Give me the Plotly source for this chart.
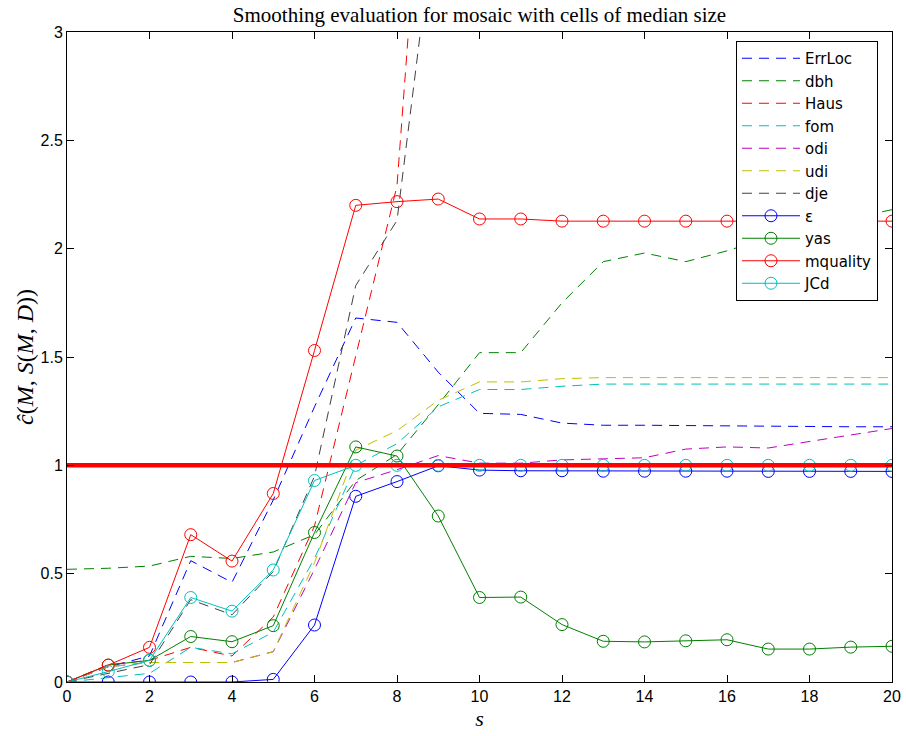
import plotly.graph_objects as go

s = list(range(21))

ErrLoc = [0, 0.07, 0.12, 0.56, 0.46, 0.84, 1.27, 1.68, 1.66, 1.43, 1.24, 1.235, 1.195, 1.185, 1.185, 1.183, 1.182, 1.18, 1.18, 1.178, 1.178]
dbh = [0.52, 0.525, 0.535, 0.58, 0.57, 0.60, 0.68, 0.93, 1.05, 1.28, 1.52, 1.52, 1.75, 1.94, 1.98, 1.94, 1.99, 2.05, 2.10, 2.14, 2.18]
Haus = [0, 0.08, 0.10, 0.16, 0.12, 0.30, 0.72, 1.50, 2.29, 4.85] + [None] * 11
fom = [0, 0.02, 0.04, 0.16, 0.13, 0.23, 0.57, 1.0, 1.10, 1.27, 1.35, 1.35, 1.365, 1.375, 1.375, 1.375, 1.375, 1.375, 1.375, 1.375, 1.375]
odi = [0, 0.07, 0.09, 0.09, 0.09, 0.14, 0.52, 0.92, 0.98, 1.045, 1.01, 1.01, 1.025, 1.03, 1.035, 1.075, 1.085, 1.08, 1.11, 1.14, 1.17]
udi = [0, 0.07, 0.09, 0.09, 0.09, 0.14, 0.55, 1.07, 1.16, 1.30, 1.385, 1.385, 1.40, 1.405, 1.405, 1.405, 1.405, 1.405, 1.405, 1.405, 1.405]
dje = [0, 0.04, 0.08, 0.38, 0.31, 0.51, 0.95, 1.83, 2.13, 3.66] + [None] * 11

eps = [0, 0, 0, 0, 0, 0.012, 0.263, 0.857, 0.925, 0.998, 0.978, 0.975, 0.975, 0.973, 0.973, 0.973, 0.973, 0.972, 0.972, 0.972, 0.972]
yas = [0, 0.078, 0.10, 0.21, 0.186, 0.26, 0.69, 1.085, 1.043, 0.766, 0.39, 0.392, 0.265, 0.188, 0.185, 0.19, 0.195, 0.152, 0.152, 0.161, 0.165]
mquality = [0, 0.078, 0.16, 0.68, 0.558, 0.87, 1.53, 2.20, 2.217, 2.229, 2.137, 2.137, 2.127, 2.127, 2.127, 2.127, 2.127, 2.127, 2.127, 2.127, 2.127]
JCd = [0, 0.048, 0.10, 0.39, 0.327, 0.517, 0.93, 1.0, 1.0, 1.0, 1.0, 1.0, 1.0, 1.0, 1.0, 1.0, 1.0, 1.0, 1.0, 1.0, 1.0]

reference_level = [1, 1]
reference_x = [0, 20]

x_ticks = list(range(0, 21, 2))
y_ticks = [0, 0.5, 1, 1.5, 2, 2.5, 3]
y_tick_labels = ["0", "0.5", "1", "1.5", "2", "2.5", "3"]

dashed = [
    ("ErrLoc", ErrLoc, "rgb(0,0,255)"),
    ("dbh", dbh, "rgb(0,128,0)"),
    ("Haus", Haus, "rgb(255,0,0)"),
    ("fom", fom, "rgb(0,191,191)"),
    ("odi", odi, "rgb(191,0,191)"),
    ("udi", udi, "rgb(191,191,0)"),
    ("dje", dje, "rgb(64,64,64)"),
]
solid = [
    ("ε", eps, "rgb(0,0,255)"),
    ("yas", yas, "rgb(0,128,0)"),
    ("mquality", mquality, "rgb(255,0,0)"),
    ("JCd", JCd, "rgb(0,191,191)"),
]

fig = go.Figure()
for name, vals, col in dashed:
    fig.add_trace(go.Scatter(
        x=s, y=vals, name=name, mode="lines",
        line=dict(color=col, width=1, dash="10px,7px"),
    ))
for name, vals, col in solid:
    fig.add_trace(go.Scatter(
        x=s, y=vals, name=name, mode="lines+markers",
        line=dict(color=col, width=1),
        marker=dict(symbol="circle-open", size=12, color=col, line=dict(width=1, color=col)),
    ))
fig.add_trace(go.Scatter(
    x=reference_x, y=reference_level, mode="lines", showlegend=False,
    line=dict(color="rgb(255,0,0)", width=4.5),
))

axis_common = dict(
    showgrid=False, zeroline=False, showline=True, linecolor="black", linewidth=1,
    mirror="ticks", ticks="inside", ticklen=7, tickcolor="black", tickwidth=1,
    automargin=False,
    tickfont=dict(family="Liberation Sans, Arial, sans-serif", size=16, color="black"),
)

W, H = 906, 736
fig.update_layout(
    width=W, height=H,
    margin=dict(l=67, r=14, t=32, b=54),
    paper_bgcolor="white", plot_bgcolor="white",
    title=dict(
        text="Smoothing evaluation for mosaic with cells of median size",
        x=(67 + 892) / 2 / W, xanchor="center", y=1 - 14.5 / H, yanchor="middle",
        font=dict(family="Liberation Serif, serif", size=21, color="black"),
    ),
    xaxis=dict(
        range=[0, 20], tickvals=x_ticks,
        title=dict(text="<i>s</i>", font=dict(family="Liberation Serif, serif", size=22, color="black"), standoff=6),
        **axis_common,
    ),
    yaxis=dict(
        range=[0, 3], tickvals=y_ticks, ticktext=y_tick_labels,
        title=dict(text="<i>ĉ</i>(<i>M</i>, <i>S</i>(<i>M</i>, <i>D</i>))",
                   font=dict(family="Liberation Serif, serif", size=24, color="black"), standoff=0),
        **axis_common,
    ),
    legend=dict(
        x=0.8109, y=(650 - 9) / 650, xanchor="left", yanchor="top",
        bgcolor="white", bordercolor="black", borderwidth=1,
        font=dict(family="DejaVu Sans, sans-serif", size=15, color="black"),
        itemwidth=58, tracegroupgap=0,
    ),
    showlegend=True,
)

fig.write_html(
    "out.html",
    config={"displayModeBar": False},
    post_script="document.body.style.margin='0';document.documentElement.style.overflow='hidden';",
)
